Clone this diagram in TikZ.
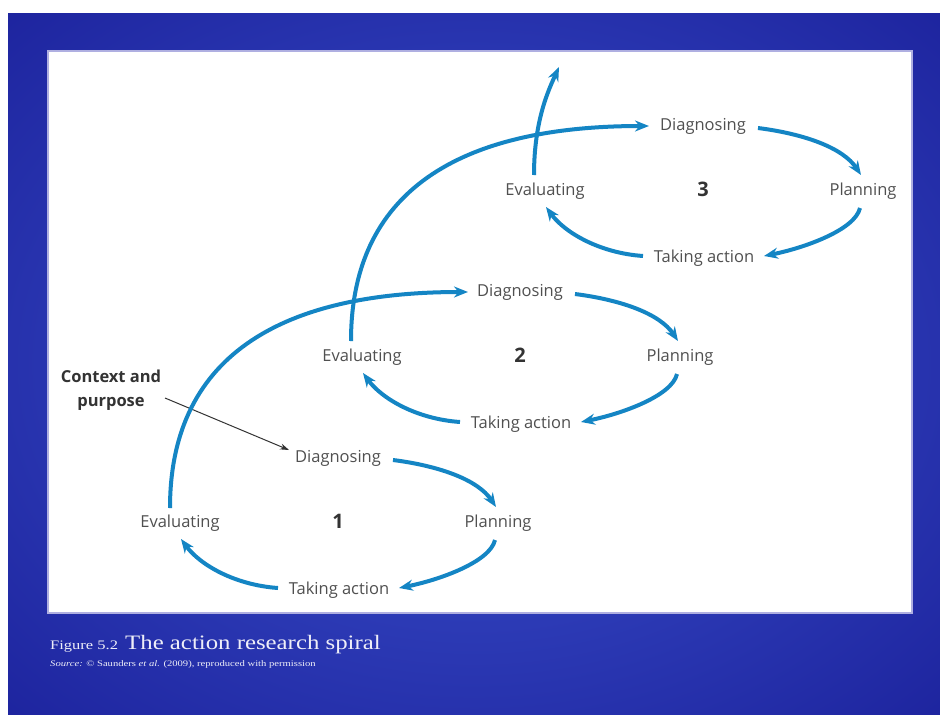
\documentclass[tikz,border=0pt]{standalone}
\usepackage{fontspec}
\setmainfont{Liberation Serif}
\newfontfamily\lblfont{Open Sans}
\usetikzlibrary{arrows.meta,calc}
\definecolor{arrowblue}{RGB}{20,133,196}
\definecolor{bgin}{RGB}{60,82,206}
\definecolor{bgout}{RGB}{24,28,150}
\definecolor{bgcorner}{RGB}{15,16,128}
\definecolor{lblgrey}{RGB}{80,80,80}
\definecolor{captxt}{RGB}{238,238,248}
\definecolor{paneledge}{RGB}{175,175,225}
\pgfdeclareradialshading{bgshade}{\pgfpoint{0bp}{0bp}}{color(0bp)=(bgin); color(42bp)=(bgout); color(71bp)=(bgcorner)}
\begin{document}
\begin{tikzpicture}[x=1pt,y=-1pt,
  lbl/.style={font=\lblfont\fontsize{16.5}{18}\selectfont, text=lblgrey, inner sep=0pt},
  num/.style={font=\lblfont\bfseries\fontsize{20}{22}\selectfont, text=black!80, inner sep=0pt},
  flow/.style={draw=arrowblue, line width=4pt, -{Stealth[length=14pt,width=11pt]}},
  ctxarrow/.style={draw=black!80, line width=1pt, -{Stealth[length=9pt,width=6pt]}},
  captext/.style={anchor=base west, text=captxt, inner sep=0pt}]
\useasboundingbox (0,0) rectangle (940,715);
\fill[white] (0,0) rectangle (940,715);
\shade[shading=bgshade] (8,13) rectangle (940,715);
\draw[draw=paneledge, line width=1.5pt, fill=white] (48,51) rectangle (912,613);

\foreach \k/\dx/\dy in {1/0/0,2/182/-166,3/365/-332}{
  \node[lbl] (d\k) at (338+\dx,458+\dy) {Diagnosing};
  \node[lbl] (p\k) at (498+\dx,523+\dy) {Planning};
  \node[lbl] (t\k) at (339+\dx,590+\dy) {Taking action};
  \node[lbl] (e\k) at (180+\dx,523+\dy) {Evaluating};
  \node[num] (n\k) at (338+\dx,521+\dy) {\k};
  \draw[flow] ($(d\k)+(55,2)$) .. controls +(47,6) and +(-18,-27) .. ($(p\k)+(-2,-16)$);
  \draw[flow] ($(p\k)+(-3,17)$) .. controls +(-5,22) and +(40,-8) .. ($(t\k)+(60,-2)$);
  \draw[flow] ($(t\k)+(-61,-2)$) .. controls +(-43,-3) and +(19,26) .. ($(e\k)+(1,16)$);
}

\node[lbl, font=\lblfont\bfseries\fontsize{16.5}{24}\selectfont, text=black!80, align=center] (ctx) at (111,390) {Context and\\purpose};
\draw[ctxarrow] ($(ctx)+(54,8)$) -- ($(d1)+(-49,-8)$);

\draw[flow] ($(e1)+(-10,-15)$) .. controls +(0,-158) and +(-178,0) .. ($(d2)+(-52,0)$);
\draw[flow] ($(e2)+(-11,-16)$) .. controls +(0,-158) and +(-178,0) .. ($(d3)+(-54,0)$);
\coordinate (top) at (559,67);
\draw[flow] ($(e3)+(-11,-16)$) .. controls +(0,-55) and +(-10,22) .. (top);

\node[captext, font=\fontsize{13}{14}\selectfont] (fig) at (50,649) {\scalebox{1.27}[1]{Figure 5.2}};
\node[captext, font=\fontsize{20.5}{22}\selectfont] (title) at (125,649) {\scalebox{1.21}[1]{The action research spiral}};
\node[captext, font=\fontsize{8.5}{10}\selectfont] (src) at (50,666) {\scalebox{1.25}[1]{\textit{Source:} © Saunders \textit{et al.} (2009), reproduced with permission}};
\end{tikzpicture}
\end{document}
